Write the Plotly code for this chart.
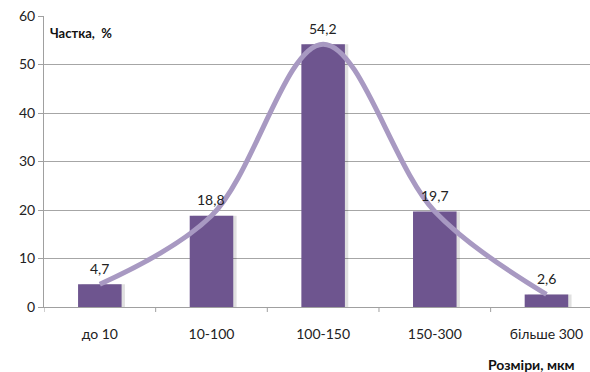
import plotly.graph_objects as go

categories = ["до 10", "10-100", "100-150", "150-300", "більше 300"]
values = [4.7, 18.8, 54.2, 19.7, 2.6]
y_ticks = [0, 10, 20, 30, 40, 50, 60]

font_family = "Lato, Open Sans, Noto Sans, DejaVu Sans, sans-serif"
idx = list(range(len(categories)))
labels = [str(v).replace(".", ",") for v in values]

fig = go.Figure()
# subtle shadow bars
fig.add_trace(go.Bar(
    x=[i + 0.03 for i in idx], y=values, width=0.39,
    marker=dict(color="rgba(0,0,0,0.12)", line=dict(width=0)),
    hoverinfo="skip", showlegend=False,
))
fig.add_trace(go.Bar(
    x=idx, y=values, width=0.39,
    marker=dict(color="#6E558F", line=dict(width=0)),
    showlegend=False,
))
fig.add_trace(go.Scatter(
    x=idx, y=values, mode="lines",
    line=dict(color="#A899C2", width=5, shape="spline", smoothing=1.0),
    showlegend=False,
))

plot_w = 590 - 44
plot_h = 372 - 16 - 65

annotations = [
    dict(x=i, y=v, text=t, showarrow=False, yshift=16, yanchor="middle",
         font=dict(size=14, family=font_family, color="#222222"))
    for i, v, t in zip(idx, values, labels)
]
annotations += [
    dict(text="<b>Частка,  %</b>", xref="paper", yref="paper", showarrow=False,
         x=(48 - 44) / plot_w, y=(307 - 33) / plot_h, xanchor="left", yanchor="middle",
         font=dict(size=13, family=font_family, color="#111111")),
    dict(text="<b>Розміри, мкм</b>", xref="paper", yref="paper", showarrow=False,
         x=(577 - 44) / plot_w, y=(307 - 364) / plot_h, xanchor="right", yanchor="middle",
         font=dict(size=14, family=font_family, color="#111111")),
]

# category boundary tick marks on x axis
shapes = []
for b in [-0.5, 0.5, 1.5, 2.5, 3.5]:
    shapes.append(dict(type="line", xref="x", yref="paper", x0=b, x1=b, y0=0, y1=-5 / plot_h,
                       line=dict(color="#A0A0A0", width=1)))

fig.update_layout(
    width=590, height=372,
    margin=dict(l=44, r=0, t=16, b=65),
    plot_bgcolor="white", paper_bgcolor="white",
    barmode="overlay",
    font=dict(family=font_family, size=14, color="#222222"),
    xaxis=dict(
        range=[-0.5, 4.39], tickmode="array", tickvals=idx, ticktext=categories,
        showgrid=False, showline=True, linecolor="#A0A0A0", linewidth=1,
        ticks="", zeroline=False, tickfont=dict(size=14), ticklabelstandoff=14,
    ),
    yaxis=dict(
        range=[0, 60], tickvals=y_ticks, showgrid=True, gridcolor="#A6A6A6", gridwidth=1,
        showline=True, linecolor="#A0A0A0", linewidth=1, ticks="outside", ticklen=5,
        tickcolor="#A0A0A0", zeroline=False, tickfont=dict(size=14),
    ),
    annotations=annotations,
    shapes=shapes,
)

fig.write_html("out.html", config={"displayModeBar": False},
               post_script="document.body.style.margin='0';document.body.style.overflow='hidden';")
